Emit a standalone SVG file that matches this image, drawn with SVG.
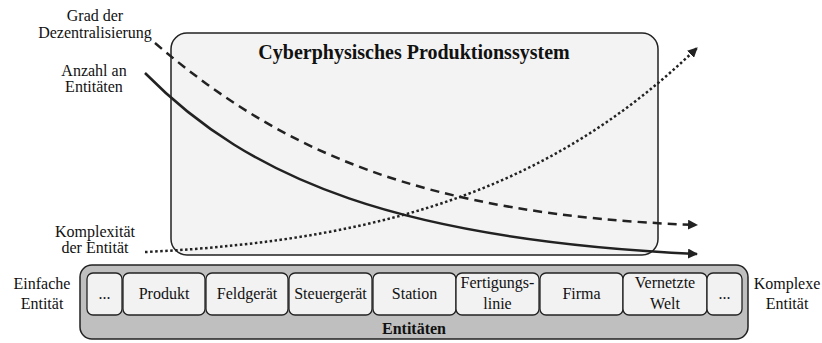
<svg xmlns="http://www.w3.org/2000/svg" width="822" height="343" viewBox="0 0 822 343" font-family="'Liberation Serif', 'DejaVu Serif', serif">
  <style>
    text { font-family: "Liberation Serif", "DejaVu Serif", serif; fill: #111; }
    .lbl { font-size: 16px; text-anchor: middle; }
    .title { font-size: 20px; font-weight: bold; text-anchor: middle; }
    .ent { fill: #f2f2f2; stroke: #222; stroke-width: 1.3; }
    .curve { fill: none; stroke: #222; }
  </style>
  <defs>
    <marker id="arrow" viewBox="0 0 10 10" refX="9" refY="5" markerWidth="10" markerHeight="10" markerUnits="userSpaceOnUse" orient="auto">
      <path d="M0,0 L10,5 L0,10 z" fill="#222"/>
    </marker>
  </defs>

  <!-- CPS frame -->
  <g id="cps">
    <rect x="171" y="33" width="487" height="222" rx="16" fill="#f3f3f3" stroke="#222" stroke-width="1.5"/>
    <text class="title" x="414" y="59">Cyberphysisches Produktionssystem</text>
  </g>

  <!-- axis labels -->
  <g id="label-dezentral">
    <text class="lbl" x="95" y="21">Grad der</text>
    <text class="lbl" x="95" y="38">Dezentralisierung</text>
  </g>
  <g id="label-anzahl">
    <text class="lbl" x="94" y="76">Anzahl an</text>
    <text class="lbl" x="94" y="92">Entitäten</text>
  </g>
  <g id="label-komplex">
    <text class="lbl" x="95" y="237">Komplexität</text>
    <text class="lbl" x="95" y="253">der Entität</text>
  </g>
  <g id="label-einfach">
    <text class="lbl" x="42" y="289">Einfache</text>
    <text class="lbl" x="42" y="309">Entität</text>
  </g>
  <g id="label-komplexe">
    <text class="lbl" x="787" y="289">Komplexe</text>
    <text class="lbl" x="787" y="309">Entität</text>
  </g>

  <!-- trend curves -->
  <g id="connectors">
    <path class="curve" d="M145,73 C250,180 400,240 697,254" stroke-width="2.5" marker-end="url(#arrow)"/>
    <path class="curve" d="M155,43 C280,150 420,215 697,225" stroke-width="2.5" stroke-dasharray="9,6" marker-end="url(#arrow)"/>
    <path class="curve" d="M145,252 C400,240 560,180 697,48" stroke-width="2.5" stroke-dasharray="2.5,2.5" marker-end="url(#arrow)"/>
  </g>

  <!-- entity scale -->
  <g id="entitaeten">
    <rect x="80" y="265" width="668" height="74" rx="12" fill="#bfbfbf" stroke="#222" stroke-width="1.5"/>
    <text class="lbl" x="414" y="334" font-weight="bold">Entitäten</text>
  </g>
  <g id="e-dots-left">
    <rect class="ent" x="87" y="273" width="35" height="42" rx="6"/>
    <text class="lbl" x="104.5" y="299">...</text>
  </g>
  <g id="e-produkt">
    <rect class="ent" x="123" y="273" width="82" height="42" rx="6"/>
    <text class="lbl" x="164" y="299">Produkt</text>
  </g>
  <g id="e-feldgeraet">
    <rect class="ent" x="206" y="273" width="82" height="42" rx="6"/>
    <text class="lbl" x="247" y="299">Feldgerät</text>
  </g>
  <g id="e-steuergeraet">
    <rect class="ent" x="289" y="273" width="83" height="42" rx="6"/>
    <text class="lbl" x="330.5" y="299">Steuergerät</text>
  </g>
  <g id="e-station">
    <rect class="ent" x="373" y="273" width="83" height="42" rx="6"/>
    <text class="lbl" x="414.5" y="299">Station</text>
  </g>
  <g id="e-fertigungslinie">
    <rect class="ent" x="456" y="273" width="83" height="42" rx="6"/>
    <text class="lbl" x="497.5" y="288">Fertigungs-</text>
    <text class="lbl" x="497.5" y="309">linie</text>
  </g>
  <g id="e-firma">
    <rect class="ent" x="540" y="273" width="83" height="42" rx="6"/>
    <text class="lbl" x="581.5" y="299">Firma</text>
  </g>
  <g id="e-vernetzte-welt">
    <rect class="ent" x="623" y="273" width="84" height="42" rx="6"/>
    <text class="lbl" x="665" y="288">Vernetzte</text>
    <text class="lbl" x="665" y="309">Welt</text>
  </g>
  <g id="e-dots-right">
    <rect class="ent" x="707" y="273" width="35" height="42" rx="6"/>
    <text class="lbl" x="724.5" y="299">...</text>
  </g>
</svg>
